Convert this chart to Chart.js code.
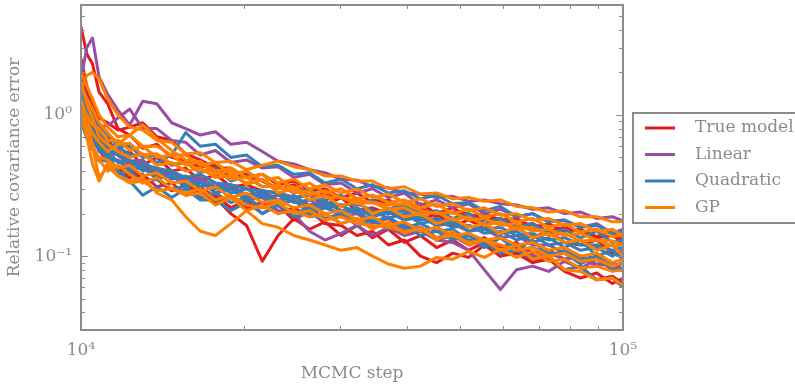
<!DOCTYPE html>
<html>
<head>
<meta charset="utf-8">
<script src="https://cdn.jsdelivr.net/npm/chart.js@4.4.1/dist/chart.umd.min.js"></script>
<style>
  body { margin: 0; background: #fff; }
  canvas { display: block; }
</style>
</head>
<body>
<canvas id="covChart" width="795" height="387"></canvas>
<script>
// MCMC step positions shared by every run
const steps = [10000, 10250, 10500, 10800, 11200, 11700, 12300, 13000, 13800, 14700,
  15600, 16600, 17700, 18900, 20200, 21600, 23100, 24700, 26400, 28200,
  30200, 32300, 34500, 36900, 39500, 42300, 45300, 48500, 51900, 55500,
  59400, 63600, 68100, 72900, 78000, 83500, 89400, 95600, 100000];

const trueModelRuns = [
  [4.2, 2.7, 2.3, 1.45, 1.2, 0.8, 0.72, 0.58, 0.62, 0.5, 0.47, 0.43, 0.44, 0.36, 0.38, 0.34, 0.3, 0.32, 0.27, 0.28, 0.26, 0.23, 0.25, 0.24, 0.21, 0.22, 0.19, 0.205, 0.2, 0.18, 0.185, 0.165, 0.17, 0.15, 0.16, 0.15, 0.138, 0.145, 0.13],
  [2.0, 1.4, 1.0, 0.8, 0.58, 0.52, 0.44, 0.45, 0.36, 0.39, 0.3, 0.31, 0.26, 0.2, 0.165, 0.092, 0.14, 0.185, 0.155, 0.175, 0.14, 0.165, 0.135, 0.155, 0.125, 0.14, 0.115, 0.13, 0.11, 0.125, 0.1, 0.115, 0.09, 0.1, 0.08, 0.084, 0.068, 0.072, 0.064],
  [1.6, 1.15, 0.85, 0.6, 0.52, 0.4, 0.43, 0.34, 0.35, 0.29, 0.32, 0.26, 0.27, 0.22, 0.25, 0.2, 0.23, 0.18, 0.21, 0.17, 0.165, 0.14, 0.15, 0.12, 0.13, 0.1, 0.09, 0.105, 0.098, 0.12, 0.1, 0.105, 0.09, 0.095, 0.078, 0.07, 0.076, 0.064, 0.07],
  [2.5, 1.6, 1.2, 0.95, 0.88, 0.78, 0.82, 0.88, 0.7, 0.66, 0.53, 0.48, 0.42, 0.42, 0.36, 0.38, 0.32, 0.34, 0.29, 0.3, 0.26, 0.28, 0.24, 0.25, 0.22, 0.235, 0.2, 0.22, 0.19, 0.2, 0.18, 0.185, 0.16, 0.17, 0.15, 0.155, 0.135, 0.14, 0.125],
  [1.2, 0.92, 0.82, 0.66, 0.68, 0.52, 0.55, 0.44, 0.5, 0.4, 0.42, 0.34, 0.38, 0.31, 0.32, 0.29, 0.28, 0.26, 0.27, 0.23, 0.26, 0.21, 0.22, 0.2, 0.21, 0.18, 0.2, 0.165, 0.18, 0.16, 0.145, 0.16, 0.135, 0.15, 0.125, 0.12, 0.13, 0.105, 0.1],
  [1.4, 1.0, 0.7, 0.56, 0.47, 0.42, 0.36, 0.38, 0.31, 0.33, 0.27, 0.29, 0.24, 0.26, 0.22, 0.24, 0.2, 0.22, 0.19, 0.2, 0.17, 0.185, 0.16, 0.17, 0.145, 0.16, 0.135, 0.145, 0.125, 0.135, 0.115, 0.125, 0.105, 0.11, 0.095, 0.1, 0.085, 0.09, 0.08]
];

const linearRuns = [
  [1.8, 3.0, 3.5, 1.85, 1.4, 1.08, 0.85, 1.25, 1.2, 0.88, 0.8, 0.72, 0.76, 0.62, 0.64, 0.55, 0.47, 0.45, 0.41, 0.39, 0.35, 0.345, 0.31, 0.305, 0.28, 0.275, 0.26, 0.265, 0.245, 0.25, 0.235, 0.23, 0.215, 0.22, 0.2, 0.205, 0.185, 0.19, 0.178],
  [1.5, 1.2, 1.0, 0.82, 0.84, 0.95, 1.1, 0.8, 0.8, 0.66, 0.64, 0.52, 0.56, 0.46, 0.48, 0.42, 0.43, 0.36, 0.38, 0.32, 0.33, 0.28, 0.3, 0.26, 0.28, 0.23, 0.25, 0.22, 0.235, 0.2, 0.215, 0.19, 0.2, 0.175, 0.18, 0.16, 0.17, 0.145, 0.155],
  [1.1, 0.95, 0.78, 0.72, 0.56, 0.55, 0.44, 0.47, 0.38, 0.4, 0.33, 0.35, 0.28, 0.31, 0.25, 0.28, 0.23, 0.25, 0.21, 0.23, 0.19, 0.2, 0.17, 0.185, 0.155, 0.16, 0.13, 0.125, 0.11, 0.08, 0.058, 0.08, 0.085, 0.078, 0.092, 0.082, 0.095, 0.08, 0.09],
  [1.3, 1.0, 0.82, 0.75, 0.58, 0.57, 0.47, 0.48, 0.38, 0.4, 0.33, 0.34, 0.28, 0.3, 0.25, 0.26, 0.21, 0.2, 0.15, 0.13, 0.145, 0.165, 0.14, 0.16, 0.14, 0.15, 0.13, 0.14, 0.12, 0.13, 0.11, 0.12, 0.1, 0.105, 0.095, 0.1, 0.085, 0.09, 0.078],
  [1.0, 0.85, 0.7, 0.68, 0.55, 0.52, 0.45, 0.45, 0.4, 0.4, 0.35, 0.36, 0.31, 0.32, 0.27, 0.29, 0.25, 0.265, 0.23, 0.245, 0.21, 0.22, 0.19, 0.205, 0.18, 0.19, 0.165, 0.17, 0.15, 0.155, 0.135, 0.14, 0.12, 0.12, 0.105, 0.1, 0.088, 0.09, 0.078]
];

const quadraticRuns = [
  [1.4, 1.1, 0.88, 0.76, 0.62, 0.6, 0.52, 0.52, 0.46, 0.52, 0.75, 0.6, 0.62, 0.5, 0.52, 0.43, 0.44, 0.38, 0.39, 0.33, 0.35, 0.3, 0.32, 0.28, 0.29, 0.255, 0.27, 0.235, 0.24, 0.21, 0.225, 0.19, 0.2, 0.175, 0.18, 0.16, 0.165, 0.145, 0.15],
  [1.1, 0.8, 0.6, 0.47, 0.52, 0.4, 0.34, 0.27, 0.31, 0.26, 0.3, 0.25, 0.25, 0.21, 0.24, 0.2, 0.23, 0.19, 0.2, 0.18, 0.2, 0.17, 0.18, 0.155, 0.17, 0.15, 0.16, 0.135, 0.145, 0.12, 0.14, 0.11, 0.13, 0.1, 0.11, 0.095, 0.1, 0.085, 0.09],
  [1.2, 0.9, 0.7, 0.62, 0.5, 0.47, 0.42, 0.42, 0.36, 0.37, 0.32, 0.34, 0.28, 0.3, 0.25, 0.27, 0.23, 0.25, 0.2, 0.22, 0.2, 0.21, 0.175, 0.19, 0.16, 0.17, 0.15, 0.155, 0.13, 0.125, 0.105, 0.11, 0.095, 0.1, 0.08, 0.085, 0.068, 0.07, 0.06],
  [1.7, 1.3, 1.05, 0.85, 0.72, 0.6, 0.6, 0.5, 0.52, 0.44, 0.46, 0.39, 0.42, 0.34, 0.37, 0.31, 0.32, 0.28, 0.3, 0.25, 0.27, 0.23, 0.25, 0.215, 0.23, 0.2, 0.21, 0.185, 0.2, 0.17, 0.185, 0.16, 0.17, 0.145, 0.155, 0.135, 0.15, 0.125, 0.13],
  [0.9, 0.68, 0.57, 0.48, 0.47, 0.38, 0.4, 0.33, 0.35, 0.3, 0.31, 0.26, 0.28, 0.24, 0.26, 0.22, 0.235, 0.2, 0.22, 0.185, 0.2, 0.165, 0.18, 0.155, 0.165, 0.14, 0.15, 0.13, 0.14, 0.115, 0.135, 0.11, 0.115, 0.105, 0.105, 0.088, 0.1, 0.08, 0.082],
  [1.0, 0.8, 0.64, 0.58, 0.48, 0.48, 0.4, 0.43, 0.35, 0.38, 0.31, 0.33, 0.3, 0.3, 0.26, 0.28, 0.24, 0.27, 0.22, 0.24, 0.21, 0.22, 0.19, 0.21, 0.18, 0.19, 0.165, 0.18, 0.15, 0.16, 0.145, 0.15, 0.125, 0.135, 0.115, 0.13, 0.1, 0.11, 0.095],
  [1.3, 0.95, 0.75, 0.55, 0.56, 0.46, 0.48, 0.4, 0.42, 0.35, 0.37, 0.31, 0.33, 0.28, 0.3, 0.26, 0.27, 0.24, 0.25, 0.22, 0.23, 0.2, 0.21, 0.185, 0.2, 0.17, 0.18, 0.16, 0.165, 0.145, 0.15, 0.13, 0.14, 0.12, 0.125, 0.11, 0.115, 0.1, 0.11],
  [1.5, 1.0, 0.8, 0.66, 0.58, 0.52, 0.47, 0.45, 0.42, 0.4, 0.36, 0.38, 0.33, 0.32, 0.3, 0.29, 0.28, 0.26, 0.27, 0.24, 0.23, 0.235, 0.21, 0.2, 0.21, 0.18, 0.185, 0.17, 0.165, 0.155, 0.16, 0.14, 0.145, 0.13, 0.135, 0.12, 0.12, 0.11, 0.115]
];

const gpRuns = [
  [1.5, 1.9, 2.0, 1.8, 1.3, 1.0, 0.82, 0.78, 0.66, 0.64, 0.53, 0.54, 0.46, 0.47, 0.41, 0.44, 0.47, 0.43, 0.41, 0.37, 0.37, 0.34, 0.34, 0.3, 0.31, 0.275, 0.28, 0.255, 0.26, 0.245, 0.25, 0.225, 0.22, 0.205, 0.21, 0.19, 0.19, 0.175, 0.175],
  [1.0, 0.7, 0.45, 0.34, 0.46, 0.37, 0.34, 0.36, 0.28, 0.25, 0.19, 0.15, 0.14, 0.17, 0.21, 0.17, 0.16, 0.14, 0.13, 0.12, 0.11, 0.115, 0.1, 0.088, 0.082, 0.085, 0.098, 0.095, 0.108, 0.098, 0.112, 0.098, 0.108, 0.092, 0.095, 0.082, 0.085, 0.078, 0.08],
  [2.0, 1.6, 1.3, 1.0, 0.82, 0.7, 0.72, 0.6, 0.6, 0.52, 0.52, 0.44, 0.46, 0.38, 0.4, 0.34, 0.36, 0.3, 0.33, 0.28, 0.3, 0.255, 0.27, 0.24, 0.25, 0.22, 0.235, 0.2, 0.215, 0.19, 0.2, 0.175, 0.185, 0.16, 0.17, 0.148, 0.155, 0.138, 0.14],
  [1.1, 0.9, 0.74, 0.64, 0.55, 0.62, 0.72, 0.85, 0.68, 0.56, 0.48, 0.46, 0.38, 0.4, 0.32, 0.35, 0.28, 0.3, 0.25, 0.27, 0.225, 0.245, 0.2, 0.22, 0.19, 0.2, 0.17, 0.185, 0.16, 0.17, 0.145, 0.16, 0.135, 0.145, 0.125, 0.13, 0.11, 0.12, 0.1],
  [1.3, 0.95, 0.6, 0.36, 0.43, 0.37, 0.33, 0.34, 0.29, 0.3, 0.27, 0.28, 0.23, 0.26, 0.21, 0.23, 0.2, 0.21, 0.19, 0.2, 0.17, 0.185, 0.155, 0.175, 0.145, 0.16, 0.13, 0.15, 0.12, 0.13, 0.11, 0.12, 0.095, 0.1, 0.08, 0.078, 0.068, 0.07, 0.062],
  [1.6, 1.3, 1.1, 0.88, 0.75, 0.62, 0.63, 0.52, 0.53, 0.45, 0.46, 0.4, 0.4, 0.35, 0.36, 0.31, 0.32, 0.28, 0.29, 0.26, 0.26, 0.235, 0.24, 0.215, 0.22, 0.195, 0.205, 0.18, 0.19, 0.165, 0.175, 0.155, 0.16, 0.14, 0.145, 0.128, 0.13, 0.118, 0.12],
  [1.2, 1.0, 0.85, 0.8, 0.66, 0.66, 0.56, 0.6, 0.5, 0.52, 0.44, 0.47, 0.4, 0.42, 0.36, 0.38, 0.33, 0.35, 0.3, 0.32, 0.28, 0.3, 0.26, 0.275, 0.24, 0.255, 0.225, 0.235, 0.21, 0.22, 0.195, 0.2, 0.18, 0.185, 0.165, 0.17, 0.15, 0.155, 0.14],
  [0.95, 0.75, 0.58, 0.5, 0.48, 0.42, 0.44, 0.37, 0.39, 0.33, 0.34, 0.29, 0.31, 0.26, 0.28, 0.24, 0.25, 0.22, 0.23, 0.2, 0.21, 0.18, 0.19, 0.165, 0.175, 0.15, 0.16, 0.14, 0.145, 0.13, 0.135, 0.12, 0.125, 0.11, 0.115, 0.1, 0.105, 0.09, 0.095],
  [1.7, 1.2, 0.95, 0.7, 0.62, 0.55, 0.5, 0.53, 0.44, 0.46, 0.4, 0.42, 0.36, 0.37, 0.33, 0.35, 0.3, 0.31, 0.27, 0.29, 0.26, 0.25, 0.24, 0.23, 0.235, 0.21, 0.2, 0.205, 0.18, 0.185, 0.165, 0.17, 0.15, 0.155, 0.14, 0.145, 0.13, 0.128, 0.12],
  [1.05, 0.8, 0.62, 0.48, 0.4, 0.44, 0.38, 0.33, 0.36, 0.3, 0.28, 0.3, 0.25, 0.27, 0.23, 0.22, 0.24, 0.2, 0.21, 0.18, 0.19, 0.17, 0.165, 0.16, 0.15, 0.155, 0.135, 0.14, 0.125, 0.13, 0.12, 0.11, 0.115, 0.1, 0.105, 0.092, 0.095, 0.085, 0.09]
];

const modelNames = ['True model', 'Linear', 'Quadratic', 'GP'];
const modelColors = ['#e41a1c', '#984ea3', '#377eb8', '#ff7f00'];
const modelRuns = [trueModelRuns, linearRuns, quadraticRuns, gpRuns];

const xTickLabels = { 10000: '10\u2074', 100000: '10\u2075' };
const yTickLabels = { 0.1: '10\u207B\u00B9', 1: '10\u2070' };

const gray = '#8c8c8c';
const serif = "'DejaVu Serif', 'Liberation Serif', serif";

const datasets = [];
modelRuns.forEach(function(runs, m) {
    runs.forEach(function(run) {
        datasets.push({
            label: modelNames[m],
            data: run.map(function(v, i) { return { x: steps[i], y: v }; }),
            borderColor: modelColors[m],
            borderWidth: 3,
            borderJoinStyle: 'round',
            pointRadius: 0,
            tension: 0,
            fill: false,
            order: 4 - m
        });
    });
});

// inward ticks, frame and legend box drawn on top of the lines
const framePlugin = {
    id: 'frame',
    afterDatasetsDraw(chart) {
        const ctx = chart.ctx;
        const a = chart.chartArea;
        const x = chart.scales.x;
        const y = chart.scales.y;
        ctx.save();
        ctx.strokeStyle = gray;
        ctx.lineWidth = 1;
        ctx.beginPath();
        for (let d = 1; d <= 10; d++) {
            const px = Math.round(x.getPixelForValue(d * 10000)) + 0.5;
            const len = (d === 1 || d === 10) ? 7 : 4;
            ctx.moveTo(px, a.bottom); ctx.lineTo(px, a.bottom - len);
            ctx.moveTo(px, a.top); ctx.lineTo(px, a.top + len);
        }
        [0.01, 0.1, 1].forEach(function(dec) {
            for (let d = 1; d <= 9; d++) {
                const v = d * dec;
                if (v < 0.03 || v > 6) continue;
                const py = Math.round(y.getPixelForValue(v)) + 0.5;
                const len = d === 1 ? 7 : 4;
                ctx.moveTo(a.left, py); ctx.lineTo(a.left + len, py);
                ctx.moveTo(a.right, py); ctx.lineTo(a.right - len, py);
            }
        });
        ctx.stroke();
        ctx.lineWidth = 2;
        ctx.strokeRect(a.left, a.top, a.right - a.left, a.bottom - a.top);

        // legend
        const lx = 633, ly = 113, rowH = 26.5;
        ctx.strokeRect(lx, ly, 170, 110);
        ctx.font = '17px ' + serif;
        ctx.textBaseline = 'middle';
        ctx.textAlign = 'left';
        modelNames.forEach(function(name, i) {
            const ry = ly + 15 + i * rowH;
            ctx.strokeStyle = modelColors[i];
            ctx.lineWidth = 3;
            ctx.beginPath();
            ctx.moveTo(645, ry); ctx.lineTo(675, ry);
            ctx.stroke();
            ctx.fillStyle = gray;
            ctx.fillText(name, 695, ry);
        });
        ctx.restore();
    }
};

new Chart(document.getElementById('covChart').getContext('2d'), {
    type: 'line',
    data: { datasets: datasets },
    options: {
        responsive: false,
        animation: false,
        layout: { padding: { top: 5, right: 172, bottom: 0, left: 0 } },
        plugins: {
            legend: { display: false },
            tooltip: { enabled: false }
        },
        scales: {
            x: {
                type: 'logarithmic',
                min: 10000,
                max: 100000,
                grid: { display: false, drawTicks: false },
                border: { display: false },
                afterBuildTicks: function(s) { s.ticks = [{ value: 10000 }, { value: 100000 }]; },
                afterFit: function(s) { s.height = 57; s.paddingLeft = 0; s.paddingRight = 0; },
                ticks: {
                    autoSkip: false,
                    maxRotation: 0,
                    padding: 10,
                    color: gray,
                    font: { family: serif, size: 17 },
                    callback: function(v) { return xTickLabels[v] || ''; }
                },
                title: {
                    display: true,
                    text: 'MCMC step',
                    color: gray,
                    font: { family: serif, size: 17 },
                    padding: { top: 0, bottom: 3 }
                }
            },
            y: {
                type: 'logarithmic',
                min: 0.03,
                max: 6,
                grid: { display: false, drawTicks: false },
                border: { display: false },
                afterBuildTicks: function(s) { s.ticks = [{ value: 0.1 }, { value: 1 }]; },
                afterFit: function(s) { s.width = 81; s.paddingTop = 0; s.paddingBottom = 0; },
                ticks: {
                    autoSkip: false,
                    padding: 9,
                    color: gray,
                    font: { family: serif, size: 17 },
                    callback: function(v) { return yTickLabels[v] || ''; }
                },
                title: {
                    display: true,
                    text: 'Relative covariance error',
                    color: gray,
                    font: { family: serif, size: 17 },
                    padding: { top: 4, bottom: 0 }
                }
            }
        }
    },
    plugins: [framePlugin]
});
</script>
</body>
</html>
